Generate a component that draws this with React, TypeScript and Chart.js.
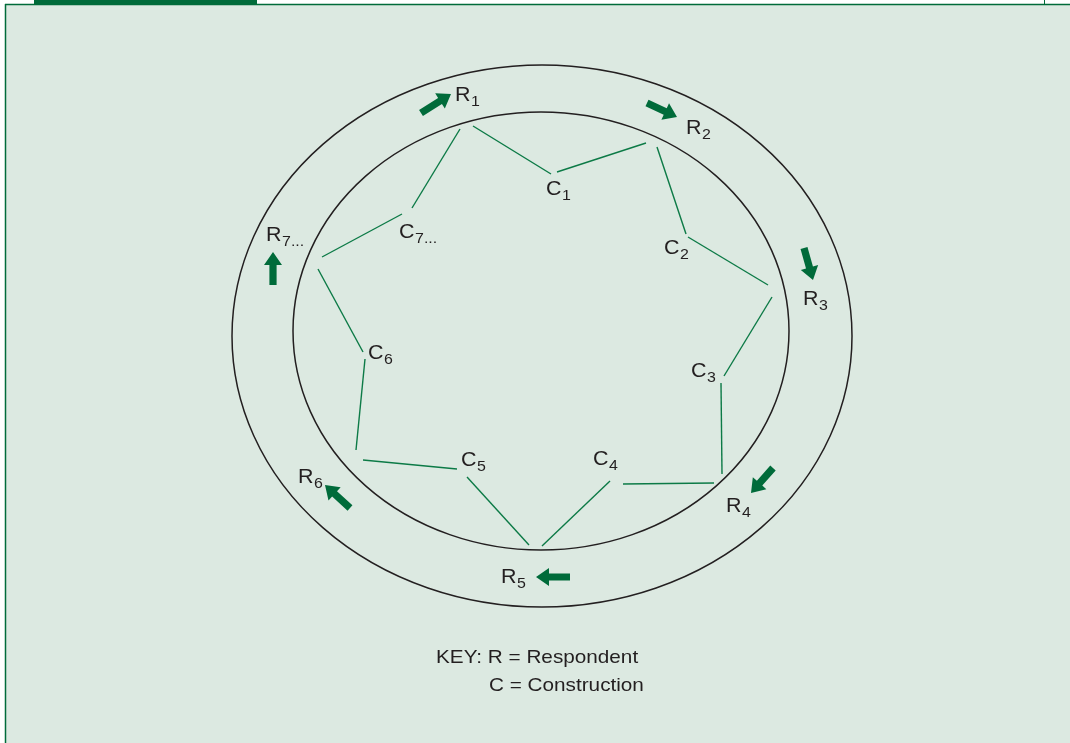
import React, { useEffect, useRef } from "react";
import { Chart, registerables } from "chart.js";
Chart.register(...registerables);

// Diagram space: x 0..1070, y 0..743 (downwards)
const ringCenterX = [542, 541];
const ringCenterY = [336, 331];
const ringRadiusX = [310, 248];
const ringRadiusY = [271, 219];

// Construction links (green strokes)
const linkX1 = [460, 473, 557, 657, 688, 772, 721, 714, 610, 529, 457, 356, 363, 322];
const linkY1 = [129, 126, 172, 147, 237, 297, 383, 483, 481, 545, 469, 450, 352, 257];
const linkX2 = [412, 551, 646, 686, 768, 724, 722, 623, 542, 467, 363, 365, 318, 402];
const linkY2 = [208, 174, 143, 234, 285, 376, 474, 484, 546, 477, 460, 359, 269, 214];

// Respondent labels
const respondentSubs = ["1", "2", "3", "4", "5", "6", "7..."];
const respondentX = [455, 686, 803, 726, 501, 298, 266];
const respondentY = [101, 134, 305, 512, 583, 483, 241];

// Construction labels
const constructionSubs = ["1", "2", "3", "4", "5", "6", "7..."];
const constructionX = [546, 664, 691, 593, 461, 368, 399];
const constructionY = [195, 254, 377, 465, 466, 359, 238];

// Rotation arrows (tail -> tip)
const arrowTailX = [421, 647, 804, 773, 570, 350, 273];
const arrowTailY = [113, 103, 248, 468, 577, 508, 285];
const arrowTipX = [451, 677, 813, 751, 536, 325, 273];
const arrowTipY = [94, 117, 280, 493, 577, 485, 252];

const keyLines = ["KEY: R = Respondent", "C = Construction"];
const keyX = [436, 489];
const keyY = [663, 691];

const FONT = '"Liberation Sans", Arial, Helvetica, sans-serif';
const BG = "#dce9e1";
const DARK_GREEN = "#006b3a";
const LINE_GREEN = "#0c7a46";
const INK = "#231f20";
const STRETCH = 1.1;

export default function App() {
  const ref = useRef<HTMLCanvasElement | null>(null);

  useEffect(() => {
    if (!ref.current) return;

    const diagramPlugin = {
      id: "diagram",
      beforeDraw(chart: any) {
        const ctx = chart.ctx;
        const xs = chart.scales.x;
        const ys = chart.scales.y;
        const px = (v: number) => xs.getPixelForValue(v);
        const py = (v: number) => ys.getPixelForValue(v);
        ctx.save();
        ctx.fillStyle = "#ffffff";
        ctx.fillRect(0, 0, chart.width, chart.height);
        ctx.fillStyle = BG;
        ctx.fillRect(px(6), py(5), px(1070) - px(6), py(743) - py(5));
        // frame
        ctx.fillStyle = DARK_GREEN;
        ctx.fillRect(px(34), py(0), px(257) - px(34), py(4) - py(0));
        ctx.strokeStyle = DARK_GREEN;
        ctx.lineWidth = 1.5;
        ctx.beginPath();
        ctx.moveTo(px(5), py(4.5));
        ctx.lineTo(px(1070), py(4.5));
        ctx.moveTo(px(5.5), py(4));
        ctx.lineTo(px(5.5), py(743));
        ctx.stroke();
        ctx.lineWidth = 1;
        ctx.beginPath();
        ctx.moveTo(px(1044.5), py(0));
        ctx.lineTo(px(1044.5), py(4));
        ctx.stroke();
        // rings
        ctx.strokeStyle = INK;
        ctx.lineWidth = 1.5;
        for (let i = 0; i < ringCenterX.length; i++) {
          ctx.beginPath();
          ctx.ellipse(
            px(ringCenterX[i]),
            py(ringCenterY[i]),
            Math.abs(px(ringCenterX[i] + ringRadiusX[i]) - px(ringCenterX[i])),
            Math.abs(py(ringCenterY[i] + ringRadiusY[i]) - py(ringCenterY[i])),
            0,
            0,
            Math.PI * 2
          );
          ctx.stroke();
        }
        ctx.restore();
      },
      afterDatasetsDraw(chart: any) {
        const ctx = chart.ctx;
        const xs = chart.scales.x;
        const ys = chart.scales.y;
        const px = (v: number) => xs.getPixelForValue(v);
        const py = (v: number) => ys.getPixelForValue(v);
        ctx.save();
        // arrows
        ctx.fillStyle = DARK_GREEN;
        for (let i = 0; i < arrowTailX.length; i++) {
          const tx = px(arrowTailX[i]);
          const ty = py(arrowTailY[i]);
          const hx = px(arrowTipX[i]);
          const hy = py(arrowTipY[i]);
          const len = Math.hypot(hx - tx, hy - ty);
          const ux = (hx - tx) / len;
          const uy = (hy - ty) / len;
          const nx = -uy;
          const ny = ux;
          const shaft = 3.6;
          const head = 9;
          const headLen = 13;
          const bx = hx - ux * headLen;
          const by = hy - uy * headLen;
          ctx.beginPath();
          ctx.moveTo(tx + nx * shaft, ty + ny * shaft);
          ctx.lineTo(bx + nx * shaft, by + ny * shaft);
          ctx.lineTo(bx + nx * head, by + ny * head);
          ctx.lineTo(hx, hy);
          ctx.lineTo(bx - nx * head, by - ny * head);
          ctx.lineTo(bx - nx * shaft, by - ny * shaft);
          ctx.lineTo(tx - nx * shaft, ty - ny * shaft);
          ctx.closePath();
          ctx.fill();
        }
        // labels
        ctx.fillStyle = INK;
        ctx.textBaseline = "alphabetic";
        ctx.textAlign = "left";
        const label = (main: string, sub: string, x: number, y: number) => {
          ctx.save();
          ctx.translate(px(x), py(y));
          ctx.scale(STRETCH, 1);
          ctx.font = `19.5px ${FONT}`;
          ctx.fillText(main, 0, 0);
          const w = ctx.measureText(main).width;
          ctx.font = `14.5px ${FONT}`;
          ctx.fillText(sub, w + 0.5, 5);
          ctx.restore();
        };
        for (let i = 0; i < respondentSubs.length; i++) {
          label("R", respondentSubs[i], respondentX[i], respondentY[i]);
        }
        for (let i = 0; i < constructionSubs.length; i++) {
          label("C", constructionSubs[i], constructionX[i], constructionY[i]);
        }
        for (let i = 0; i < keyLines.length; i++) {
          ctx.save();
          ctx.translate(px(keyX[i]), py(keyY[i]));
          ctx.scale(1.12, 1);
          ctx.font = `18.5px ${FONT}`;
          ctx.fillText(keyLines[i], 0, 0);
          ctx.restore();
        }
        ctx.restore();
      },
    };

    const datasets = linkX1.map((_, i) => ({
      type: "line" as const,
      data: [
        { x: linkX1[i], y: linkY1[i] },
        { x: linkX2[i], y: linkY2[i] },
      ],
      borderColor: LINE_GREEN,
      borderWidth: 1.4,
      pointRadius: 0,
      showLine: true,
      fill: false,
      tension: 0,
    }));

    const chart = new Chart(ref.current, {
      type: "scatter",
      data: { datasets },
      options: {
        responsive: false,
        animation: false,
        layout: { padding: 0 },
        plugins: { legend: { display: false }, tooltip: { enabled: false } },
        scales: {
          x: { type: "linear", min: 0, max: 1070, display: false },
          y: { type: "linear", min: 0, max: 743, reverse: true, display: false },
        },
      },
      plugins: [diagramPlugin],
    });
    return () => chart.destroy();
  }, []);

  return (
    <div style={{ position: "fixed", left: 0, top: 0, width: 1070, height: 743 }}>
      <canvas ref={ref} width={1070} height={743} style={{ display: "block" }} />
    </div>
  );
}
